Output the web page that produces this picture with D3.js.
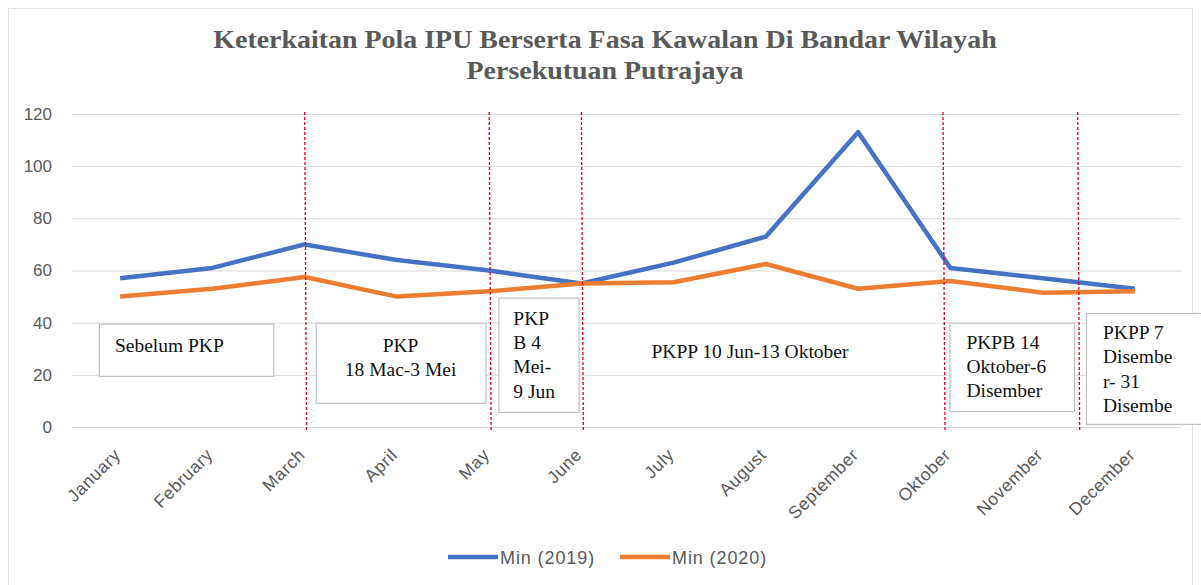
<!DOCTYPE html>
<html>
<head>
<meta charset="utf-8">
<script src="https://cdn.jsdelivr.net/npm/d3@7"></script>
<style>
  body { margin: 0; background: #fff; }
  svg { display: block; }
</style>
</head>
<body>
<svg id="chart" width="1201" height="585"></svg>
<script>
// chart values
const months = ["January", "February", "March", "April", "May", "June",
  "July", "August", "September", "Oktober", "November", "December"];
const min2019 = [57, 61, 70, 64, 60, 55, 63, 73, 113, 61, 57, 53];
const min2020 = [50, 53, 57.5, 50, 52, 55, 55.5, 62.5, 53, 56, 51.5, 52];
const yTicks = [0, 20, 40, 60, 80, 100, 120];
const seriesNames = ["Min (2019)", "Min (2020)"];
// phase boundaries, as position along the month axis (0 = January)
const phaseLines = [2, 4, 5, 8.92, 10.38];
const phaseLabels = [
  ["Sebelum PKP"],
  ["PKP", "18 Mac-3 Mei"],
  ["PKP", "B 4", "Mei-", "9 Jun"],
  ["PKPP 10 Jun-13 Oktober"],
  ["PKPB 14", "Oktober-6", "Disember"],
  ["PKPP 7", "Disembe", "r- 31", "Disembe"]
];
const titleLines = ["Keterkaitan Pola IPU Berserta Fasa Kawalan Di Bandar Wilayah",
  "Persekutuan Putrajaya"];

const svg = d3.select("#chart");
const colors = ["#4472C4", "#ED7D31"];
const grey = "#595959";

let plot = {left: 74, right: 1181, top: 114, bottom: 427};

let x = d3.scalePoint()
  .domain(months)
  .range([plot.left, plot.right])
  .padding(0.5);

let xi = d3.scaleLinear()
  .domain([0, months.length - 1])
  .range([x(months[0]), x(months[months.length - 1])]);

let y = d3.scaleLinear()
  .domain([0, 120])
  .range([plot.bottom, plot.top]);

// faint frame of the chart object
svg.append("rect")
  .attr("x", 8.5).attr("y", 8.5)
  .attr("width", 1184).attr("height", 600)
  .attr("fill", "none")
  .attr("stroke", "#E3E3E3");

// title (the source glyphs are stretched sideways)
svg.append("g")
  .attr("transform", "translate(605,0) scale(1.14,1)")
  .selectAll("text")
  .data(titleLines)
  .join("text")
    .attr("x", 0)
    .attr("y", (d, i) => 48 + i * 31)
    .attr("text-anchor", "middle")
    .attr("font-family", "Liberation Serif, Times New Roman, serif")
    .attr("font-weight", "bold")
    .attr("font-size", 24.5)
    .attr("fill", grey)
    .text(d => d);

// y axis: grid + labels
let yAxis = d3.axisLeft(y)
  .tickValues(yTicks)
  .tickSize(-(plot.right - plot.left + 2))
  .tickPadding(20);

let gy = svg.append("g")
  .attr("transform", "translate(" + (plot.left - 2) + ",0)")
  .call(yAxis);
gy.select(".domain").remove();
gy.selectAll(".tick line").attr("stroke", "#D9D9D9");
gy.selectAll(".tick text")
  .attr("font-family", "Liberation Sans, Arial, sans-serif")
  .attr("font-size", 17)
  .attr("fill", grey);

// x axis labels, rotated
let xAxis = d3.axisBottom(x).tickSize(0).tickPadding(0);
let gx = svg.append("g")
  .attr("transform", "translate(0," + plot.bottom + ")")
  .call(xAxis);
gx.select(".domain").remove();
gx.selectAll(".tick text")
  .attr("font-family", "Liberation Sans, Arial, sans-serif")
  .attr("font-size", 17.5)
  .attr("letter-spacing", 0.6)
  .attr("fill", grey)
  .attr("text-anchor", "end")
  .attr("dy", 0)
  .attr("y", 0)
  .attr("transform", "translate(1,29) rotate(-45)");

// lines
let line = d3.line()
  .x((d, i) => x(months[i]))
  .y(d => y(d));

svg.append("g")
  .selectAll("path")
  .data([min2019, min2020])
  .join("path")
    .attr("d", d => line(d))
    .attr("fill", "none")
    .attr("stroke", (d, i) => colors[i])
    .attr("stroke-width", 4.5)
    .attr("stroke-linejoin", "round");

// phase separators
svg.append("g")
  .selectAll("line")
  .data(phaseLines)
  .join("line")
    .attr("x1", d => xi(d)).attr("x2", d => xi(d) + 2)
    .attr("y1", plot.top - 2).attr("y2", plot.bottom + 5)
    .attr("stroke", "#E0001B")
    .attr("stroke-width", 1.3)
    .attr("stroke-dasharray", "3,2");

// annotation boxes (month-index / value units)
const boxes = [
  {x0: -0.23, x1: 1.66, top: 39.6, bottom: 19.6, border: true, anchor: "start", pad: 16, first: 28},
  {x0: 2.12, x1: 3.96, top: 40, bottom: 9.3, border: true, anchor: "middle", pad: 0, first: 29},
  {x0: 4.10, x1: 4.97, top: 49.6, bottom: 5.8, border: true, anchor: "start", pad: 15, first: 27},
  {x0: 5.76, x1: 8.2, top: 40, bottom: 10, border: false, anchor: "start", pad: 0, first: 35},
  {x0: 8.99, x1: 10.34, top: 40, bottom: 6.1, border: true, anchor: "start", pad: 17, first: 26},
  {x0: 10.47, x1: 11.72, top: 43.7, bottom: 1.2, border: true, anchor: "start", pad: 17, first: 26}
];

let ann = svg.append("g")
  .selectAll("g")
  .data(boxes)
  .join("g");

ann.filter(d => d.border).append("rect")
  .attr("x", d => xi(d.x0) + 0.5)
  .attr("y", d => y(d.top) + 0.5)
  .attr("width", d => xi(d.x1) - xi(d.x0))
  .attr("height", d => y(d.bottom) - y(d.top))
  .attr("fill", "#fff")
  .attr("stroke", "#BFBFBF")
  .attr("stroke-width", 1.2);

ann.each(function(d, i) {
  let tx = d.anchor === "middle" ? (xi(d.x0) + xi(d.x1)) / 2 : xi(d.x0) + d.pad;
  d3.select(this).selectAll("text")
    .data(phaseLabels[i])
    .join("text")
      .attr("x", tx)
      .attr("y", (t, j) => y(d.top) + d.first + j * 24.3)
      .attr("text-anchor", d.anchor)
      .attr("font-family", "Liberation Serif, Times New Roman, serif")
      .attr("font-size", 19.5)
      .attr("fill", "#111")
      .text(t => t);
});

// legend
let legend = svg.append("g")
  .selectAll("g")
  .data(seriesNames)
  .join("g")
    .attr("transform", (d, i) => "translate(" + (448 + i * 172) + ",557)");

legend.append("line")
  .attr("x1", 0).attr("x2", 50)
  .attr("stroke", (d, i) => colors[i])
  .attr("stroke-width", 4.5);

legend.append("text")
  .attr("x", 52)
  .attr("y", 7)
  .attr("font-family", "Liberation Sans, Arial, sans-serif")
  .attr("font-size", 18)
  .attr("letter-spacing", 0.9)
  .attr("fill", grey)
  .text(d => d);
</script>
</body>
</html>
